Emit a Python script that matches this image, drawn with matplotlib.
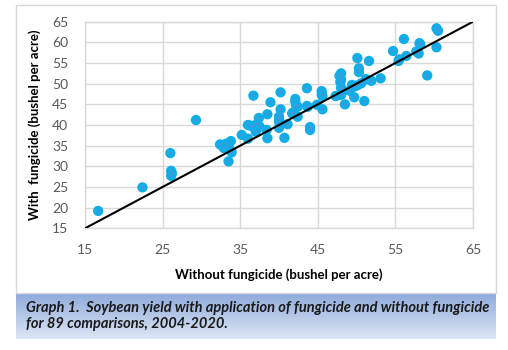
import matplotlib
matplotlib.use("Agg")
import matplotlib.pyplot as plt
import numpy as np
from matplotlib.patches import Rectangle

plt.rcParams["font.family"] = ["Lato", "DejaVu Sans"]

# yield without fungicide (x) and with fungicide (y), bushel per acre
without_fungicide = [
    16.7, 22.4, 26.0, 26.1, 26.1, 29.3, 32.4, 32.9, 33.2, 33.8,
    33.9, 33.5, 35.2, 36.0, 36.0, 36.7, 36.7, 37.4, 37.0, 37.5,
    38.5, 38.9, 38.5, 38.4, 40.2, 40.2, 40.0, 40.0, 40.0, 40.7,
    41.1, 41.7, 42.1, 42.1, 42.4, 42.4, 43.6, 43.6, 44.0, 44.0,
    44.9, 45.5, 45.5, 45.6, 47.3, 48.0, 47.8, 48.0, 48.0, 48.0,
    48.5, 49.1, 49.7, 49.7, 50.1, 50.3, 50.3, 50.6, 51.0, 51.2,
    51.6, 51.9, 53.1, 54.7, 55.4, 55.5, 56.1, 56.4, 57.7, 58.0,
    58.1, 59.1, 60.3, 60.5, 60.3, 33.5, 42.2, 41.8, 49.4, 45.6,
    48.1, 37.2, 40.0, 47.9, 26.2, 36.4, 50.1, 43.7, 58.2,
]
with_fungicide = [
    19.2, 24.9, 33.2, 28.9, 27.7, 41.2, 35.3, 34.4, 35.5, 36.1,
    33.4, 31.2, 37.6, 40.0, 36.7, 47.1, 39.6, 41.7, 38.4, 39.6,
    42.6, 45.5, 36.8, 38.8, 47.9, 43.8, 42.0, 40.8, 39.3, 36.9,
    40.2, 42.8, 46.3, 45.6, 44.4, 42.0, 48.9, 44.6, 39.5, 38.8,
    44.9, 48.2, 47.4, 43.8, 47.0, 52.5, 51.9, 51.0, 49.0, 47.3,
    45.0, 48.3, 46.7, 49.3, 56.2, 53.7, 52.8, 50.1, 45.8, 51.1,
    55.5, 50.7, 51.3, 57.9, 55.5, 55.9, 60.8, 56.7, 57.8, 57.3,
    59.8, 52.0, 63.4, 62.8, 58.8, 34.8, 44.8, 43.0, 49.7, 47.0,
    48.5, 40.3, 41.5, 50.4, 28.3, 39.8, 49.6, 44.4, 59.5,
]
x_ticks = [15, 25, 35, 45, 55, 65]
y_ticks = [15, 20, 25, 30, 35, 40, 45, 50, 55, 60, 65]
caption = ("Graph 1.  Soybean yield with application of fungicide and without fungicide\n"
           "for 89 comparisons, 2004-2020.")

W, H = 508, 350
fig = plt.figure(figsize=(W / 100, H / 100), dpi=100)

# chart border and caption box (figure pixel coords, y from top)
fig.patches.append(Rectangle((16 / W, 1 - 293 / H), 480 / W, 288 / H,
                             transform=fig.transFigure, fill=False,
                             edgecolor="#d9d9d9", lw=1.0))
grad_ax = fig.add_axes([16 / W, 1 - 339 / H, 480 / W, 46 / H])
grad = np.linspace(0, 1, 100).reshape(-1, 1)
cmap = matplotlib.colors.LinearSegmentedColormap.from_list("cap", ["#8eaadb", "#dde6f5"])
grad_ax.imshow(grad, aspect="auto", cmap=cmap, extent=[0, 1, 0, 1])
grad_ax.axis("off")
fig.text(26 / W, 1 - 316 / H, caption, ha="left", va="center", fontsize=10.5,
         fontweight="bold", style="italic", color="#1a1a1a", linespacing=1.1)

ax = fig.add_axes([85 / W, 1 - 228.3 / H, 388 / W, 206.6 / H])
ax.scatter(without_fungicide, with_fungicide, s=55, color="#12ace6", zorder=3,
           edgecolors="none")
ax.scatter(without_fungicide, with_fungicide, s=1.5, color="#8a7bc4", zorder=4,
           edgecolors="none")
ax.plot([15, 65], [15, 65], color="black", lw=1.5, zorder=5)

ax.set_xlim(15, 65)
ax.set_ylim(15, 65)
ax.set_xticks(x_ticks)
ax.set_yticks(y_ticks)
ax.grid(True, color="#d9d9d9", lw=1.0, zorder=0)
for s in ax.spines.values():
    s.set_color("#d9d9d9")
    s.set_linewidth(1.0)
ax.tick_params(length=0, labelsize=10, colors="#595959")
ax.tick_params(axis="x", pad=11)
ax.tick_params(axis="y", pad=12)
ax.set_xlabel("Without fungicide (bushel per acre)", fontsize=9.5,
              fontweight="bold", color="black", labelpad=9)
ax.set_ylabel("With  fungicide (bushel per acre)", fontsize=9.5,
              fontweight="bold", color="black", labelpad=8)

fig.savefig("out.png", dpi=100)
